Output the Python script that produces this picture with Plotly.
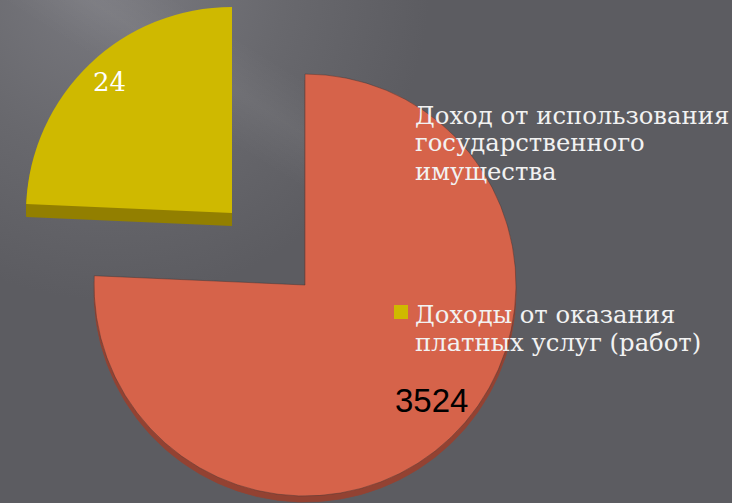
import base64
import plotly.graph_objects as go

W, H = 732, 503

categories = ["Доходы от оказания платных услуг (работ)", "Доход от использования государственного имущества"]
reported_values = [3524, 24]
drawn_shares = [75.7, 24.3]
value_labels = ["3524", "24"]
legend_lines = [
    ["Доход от использования", "государственного", "имущества"],
    ["Доходы от оказания", "платных услуг (работ)"],
]

RED, RED_DARK = "#d6634a", "#934232"
YELLOW, YELLOW_DARK = "#cfb900", "#927f00"
CLEAR = "rgba(0,0,0,0)"
EDGE = "rgba(60,50,50,0.55)"

svg = f"""<svg xmlns='http://www.w3.org/2000/svg' width='{W}' height='{H}'>
<defs>
<radialGradient id='g' gradientUnits='userSpaceOnUse' cx='110' cy='-20' r='320'>
<stop offset='0' stop-color='#7a7a80'/><stop offset='0.55' stop-color='#68686d'/><stop offset='1' stop-color='#5c5c61'/>
</radialGradient>
<linearGradient id='s' gradientUnits='userSpaceOnUse' x1='240' y1='150' x2='290' y2='70'>
<stop offset='0' stop-color='#ffffff' stop-opacity='0'/><stop offset='0.5' stop-color='#ffffff' stop-opacity='0.05'/><stop offset='1' stop-color='#ffffff' stop-opacity='0'/>
</linearGradient>
</defs>
<rect width='{W}' height='{H}' fill='#5c5c61'/>
<rect width='{W}' height='{H}' fill='url(#g)'/>
<rect width='400' height='260' fill='url(#s)'/>
</svg>"""
bg = "data:image/svg+xml;base64," + base64.b64encode(svg.encode()).decode()


def dom(cx, cy, r):
    return dict(x=[(cx - r) / W, (cx + r) / W], y=[1 - (cy + r) / H, 1 - (cy - r) / H])


def pie(cx, cy, r, colors, line):
    return go.Pie(
        labels=categories, values=drawn_shares, sort=False, direction="clockwise",
        rotation=0, domain=dom(cx, cy, r), textinfo="none", showlegend=False,
        customdata=reported_values,
        hovertemplate="%{label}: %{customdata}<extra></extra>",
        marker=dict(colors=colors, line=dict(color=line, width=0.8)),
    )


fig = go.Figure()
# depth layers, then top faces
fig.add_trace(pie(305, 291, 211, [RED_DARK, CLEAR], [RED_DARK, CLEAR]))
fig.add_trace(pie(305, 285, 211, [RED, CLEAR], [EDGE, CLEAR]))
for dy in range(1, 14):
    fig.add_trace(pie(232, 213 + dy, 206, [CLEAR, YELLOW_DARK], [CLEAR, CLEAR]))
fig.add_trace(pie(232, 213, 206, [CLEAR, YELLOW], [CLEAR, CLEAR]))

ann = []
tops = [115, 314]
for block, y0 in zip(legend_lines, tops):
    for i, line in enumerate(block):
        ann.append(dict(text=line, x=413 / W, y=1 - (y0 + i * 28) / H, xref="paper", yref="paper",
                        xanchor="left", yanchor="middle", showarrow=False,
                        font=dict(family="DejaVu Serif", size=24.3, color="#f2f2f2")))
ann.append(dict(text=value_labels[0], x=431 / W, y=1 - 400 / H, xref="paper", yref="paper", showarrow=False,
                xanchor="center", yanchor="middle",
                font=dict(family="Liberation Sans", size=33, color="#000000")))
ann.append(dict(text=value_labels[1], x=109 / W, y=1 - 82 / H, xref="paper", yref="paper", showarrow=False,
                xanchor="center", yanchor="middle",
                font=dict(family="DejaVu Serif", size=26, color="#ffffff")))

shapes = [
    dict(type="rect", xref="paper", yref="paper", x0=394 / W, x1=408 / W, y0=1 - 319 / H, y1=1 - 305 / H,
         fillcolor=YELLOW, line=dict(width=0)),
]

fig.update_layout(
    width=W, height=H, margin=dict(l=0, r=0, t=0, b=0), showlegend=False,
    paper_bgcolor="#5c5c61", plot_bgcolor="#5c5c61",
    annotations=ann, shapes=shapes,
    images=[dict(source=bg, xref="paper", yref="paper", x=0, y=1, sizex=1, sizey=1,
                 xanchor="left", yanchor="top", sizing="stretch", layer="below")],
)
fig.write_html("out.html", config=dict(displayModeBar=False),
               post_script="document.body.style.margin='0';document.body.style.overflow='hidden';")
